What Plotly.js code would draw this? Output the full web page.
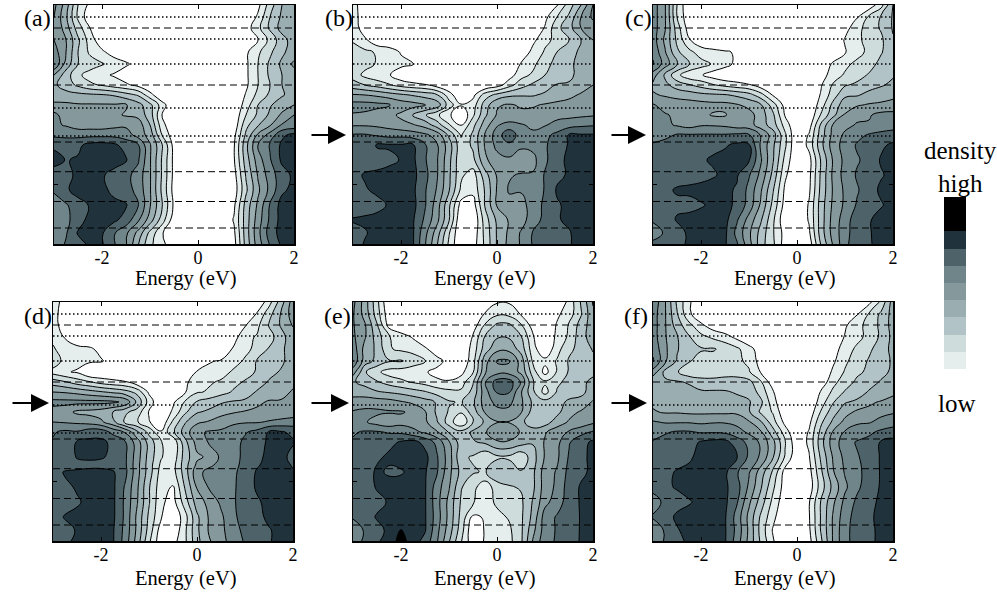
<!DOCTYPE html>
<html><head><meta charset="utf-8">
<script src="https://cdn.plot.ly/plotly-3.0.1.min.js"></script>
<style>html,body{margin:0;padding:0;background:#fff}</style></head>
<body><div id="chart" style="width:997px;height:595px"></div>
<script>
const energy=[-3,-2.75,-2.5,-2.25,-2,-1.75,-1.5,-1.25,-1,-0.75,-0.5,-0.25,0,0.25,0.5,0.75,1,1.25,1.5,1.75,2];
const rows=[0,12,23,35,47,59,70,80,90,100,110,120,130,140,155,170,185,200,215,228,239];
const rowsD=[0,12,23,35,47,59,70,80,90,100,110,120,130,140,155,163,170,185,200,215,228,239];
const bandColors=['#ffffff','#e5eeed','#cfdcdc','#b2c3c7','#9aadb1','#85999d','#6f858a','#4d6369','#20333c','#000000'];
const levelBar=[[1],[2],[3],[4],[5],[6],[7],[8],[9]];
const levelEdges=[0,1,2,3,4,5,6,7,8,10];
const dottedRows=[12,34,59,103,131];
const dashedRows=[23,80,137,166.7,196.5,223];
const tickVals=[-2,0,2];
const tickText=['-2','0','2'];
const panelLetters=['(a)','(b)','(c)','(d)','(e)','(f)'];

const zA=[
[6.3,4.5,2,.7,0,0,0,0,0,0,0,0,0,0,0,0,0,.7,2.5,4,4.5],
[6,4.2,1.8,.3,0,0,0,0,0,0,0,0,0,0,0,0,0,1.2,3,4.2,4.8],
[6,4.5,2.5,1,0,0,0,0,0,0,0,0,0,0,0,0,.5,1.7,3.2,4.4,5],
[6,5,3.2,1.5,.3,0,0,0,0,0,0,0,0,0,0,0,0,1,2.3,3.6,4.5],
[6.5,5,3,1.8,1.2,.5,0,0,0,0,0,0,0,0,0,0,.8,1.8,2.8,3.8,4.5],
[7,4.6,3,2.5,2.1,1.6,1.2,.5,0,0,0,0,0,0,0,0,.8,2,3.2,4.2,5.2],
[5,3.5,2.2,1.6,1.2,.9,.3,0,0,0,0,0,0,0,0,0,.8,2,3.2,4,4.6],
[4.2,3.5,2.8,2.2,1.9,1.5,1.2,.7,0,0,0,0,0,0,0,0,.8,2,3,4,4.6],
[4.5,4.4,4.3,4.2,4.1,3.9,3.4,2.9,1.4,0,0,0,0,0,0,0,1.1,2.3,3.2,3.9,4.4],
[5.2,5.2,5.1,5.1,5.1,5.1,5.1,4.4,3.3,1.5,0,0,0,0,0,0,1.5,3,3.9,4.5,5],
[6.3,5.5,5.3,5.2,5.2,5.2,4.9,4.7,3.5,1,0,0,0,0,0,.2,2,3.2,4.2,5.2,6],
[6.2,5.9,5.5,5.5,5.5,5.7,5.8,5.6,4,1.4,0,0,0,0,0,.3,2.7,3.9,4.9,6.1,6.3],
[6.8,6.8,6.7,6.7,6.7,6.7,6.5,5.6,4.6,2,.3,0,0,0,0,.7,3.2,5.2,6.4,7.8,8.3],
[7.8,7.5,7.8,8.3,8.4,8.2,7.6,7.1,5.1,3.1,.6,0,0,0,0,.9,3.7,6,7.1,8.2,8.4],
[8.4,7.95,8.1,8.5,8.5,8.4,8.1,7.15,5.1,2.9,.7,0,0,0,0,.9,3.5,5.5,6.9,8.2,8.2],
[7.5,7.6,8.3,8.5,8.1,7.7,7.3,6.6,5.1,2.9,.7,0,0,0,0,.6,3.1,5.1,6.5,7.6,8.2],
[7.2,7.8,8.5,8.5,8.3,7.7,7.4,6.7,5.1,2.8,.6,0,0,0,0,.4,2.8,4.8,6.3,7.8,8.3],
[6.3,6.9,7.5,8.1,8.4,8.3,8.1,7.1,5.1,3.1,.8,0,0,0,0,.8,3.4,5.2,7.1,8.4,8.4],
[6.1,6.7,7.6,8.3,8.4,8.2,7.6,6.2,4.5,2.5,.4,0,0,0,0,1.1,3.5,5.5,7.2,8.4,8.5],
[6.2,6.9,8.1,8.5,8.1,7.1,6.2,4.7,2.7,1.1,0,0,0,0,0,.8,3.5,5.7,7.5,8.4,8.5],
[6.4,7.1,7.6,8.2,8.1,7.1,6.1,4.1,2.2,1.4,0,0,0,0,0,.6,3.4,5.5,7.1,8.2,8.5]];

const zB=[
[1.6,0,0,0,0,0,0,0,0,0,0,0,0,0,0,0,0,.9,2.5,4,6],
[1.6,.2,0,0,0,0,0,0,0,0,0,0,0,0,0,0,.7,2,3.2,5,6.2],
[1.7,.3,0,0,0,0,0,0,0,0,0,0,0,0,0,0,1.1,2.7,3.6,5,5.5],
[1.8,1.2,.2,0,0,0,0,0,0,0,0,0,0,0,0,.7,1.8,2.2,3,4,5],
[2.7,2.2,1.9,1.6,.9,0,0,0,0,0,0,0,0,0,0,1.4,2.1,3,3.6,4.2,5],
[3,2.4,1.9,1.6,1.3,1.1,0,0,0,0,0,0,0,0,1.1,1.7,2.8,3.2,3.8,4.3,4.8],
[2.6,1.7,1.3,1.1,.3,0,0,0,0,0,0,0,0,.5,1.6,2.2,3,3.3,3.8,4.3,4.7],
[3.4,3,2.6,2.1,1.6,1.3,1.1,.5,0,0,0,0,.5,1.6,2.6,3.2,3.5,4.1,4.1,4.6,5],
[5.1,5,4.8,4.5,4.2,3.9,3.6,3.1,1.5,0,.7,2.5,3.3,3.8,3.9,3.9,4.2,4.6,4.8,5.1,5.2],
[6.4,6.4,6.3,6.1,5.6,5.4,5.1,4.6,2.5,1.1,1.5,3.5,4.9,5.1,4.9,4.9,5.1,5.2,5.3,5.5,5.6],
[5.9,5.8,5.5,5.3,4.8,3.9,3.1,2.2,1.2,0,1.8,3.8,5.1,5.1,5.2,5.3,5.1,5.5,5.7,5.8,5.9],
[5.9,5.9,5.8,5.6,5.3,5.1,4.6,3.5,2.1,.9,2.7,4.5,5.9,6.4,6.1,5.8,5.9,6.5,6.6,6.8,6.9],
[7.1,7.1,6.9,6.7,6.7,6.5,6.2,5.6,3.8,1.9,3.2,5.1,6.5,7.7,6.5,6.2,6.8,7.2,8.1,8.1,8.1],
[7.1,7.5,8.1,8.1,8.1,8.1,7.1,6.1,4.5,2.3,3.2,5.1,6.3,6.8,6.3,6.3,6.9,7.4,8.1,8.3,8.3],
[7.5,7.5,7.6,7.8,8.05,8.2,7.1,6.1,4.3,2.2,2.7,4.8,5.6,5.8,5.2,5.7,6.8,7.7,8.2,8.4,8.4],
[7.7,8.1,8.2,8.3,8.4,8.3,7.3,6.1,4.2,2.2,1.5,3.6,5.1,5.9,6.1,6.1,7.1,7.8,8.1,8.3,8.3],
[7.6,7.9,8.2,8.3,8.4,8.2,7.1,5.9,4.1,1.8,1.3,3.1,5.1,6.1,6.1,6.1,7.1,8.1,8.3,8.3,8.1],
[7.4,7.5,7.7,8.1,8.3,8.3,7.1,5.5,3.2,.6,.5,3.1,5.1,5.7,5.6,6.5,7.2,7.9,8.2,8.3,8.2],
[8.1,8.2,8.3,8.4,8.4,8.1,6.8,5.3,3.1,0,0,2.5,4.2,5.1,5.6,6.5,7.3,7.9,8.2,8.4,8.5],
[7.6,7.9,8.4,8.4,8.4,8.1,6.3,4.5,2.1,0,.3,2.3,4.1,5.2,6.1,7.1,7.5,7.6,7.9,8.5,8.5],
[7.5,8.1,8.4,8.4,8.4,8.1,6.1,4.1,1.8,0,.5,2.2,4.1,5.3,6.1,7.1,7.5,7.7,7.9,8.4,8.5]];

const zC=[
[6.5,5.1,2,0,0,0,0,0,0,0,0,0,0,0,0,0,0,0,.3,1.6,4],
[6.5,5.1,2,.2,0,0,0,0,0,0,0,0,0,0,0,0,0,.9,2.2,3.1,4.1],
[6.5,5.1,2.5,.5,0,0,0,0,0,0,0,0,0,0,0,0,.6,1.6,2.5,3.1,4.1],
[6.5,4.8,2.8,1.1,.3,0,0,0,0,0,0,0,0,0,0,0,1.1,1.8,2.3,2.8,3.9],
[6.8,5.1,3.2,2.3,1.5,1.3,1.1,.9,.3,0,0,0,0,0,0,0,.9,1.7,2.2,2.9,3.7],
[7.1,5.5,4.1,3.1,2.4,1.9,1.4,.7,0,0,0,0,0,0,0,1.2,1.8,2.2,2.6,3.3,3.7],
[5.5,3.8,2.3,1.3,1.1,.5,.1,0,0,0,0,0,0,0,.4,1.6,2.1,2.6,3.1,3.6,3.9],
[4.8,4.3,3.5,3.1,2.6,2.1,1.7,1.4,1.1,.4,0,0,0,0,.9,2.1,2.9,3.2,3.6,3.9,4.2],
[5.1,4.9,4.7,4.5,4.3,4.2,4.1,3.8,3.4,2.4,.9,0,0,0,1.1,2.5,3.8,3.9,4.3,4.5,4.7],
[6.1,5.6,5.5,5.5,5.4,5.3,5.3,5.1,4.7,4.1,2.5,.6,0,0,1.5,3.3,4.6,4.9,5.1,5.2,5.4],
[6.3,6.1,5.8,5.5,5.3,4.9,4.9,5.7,5.4,4.5,3.2,.9,0,.1,2.1,3.7,5.1,5.7,5.9,6.3,6.3],
[6.3,6.2,5.9,5.6,5.9,5.9,5.8,5.5,5.4,4.5,3.5,1.6,0,.5,3.2,5.1,5.7,6.1,6.1,6.4,6.6],
[6.3,6.7,7.1,7.1,7.1,7.1,7.1,7.2,7.1,5.9,4.5,2.2,0,1.1,3.5,5.3,6.2,6.7,7.1,7.3,7.4],
[7.2,7.4,7.5,7.5,7.7,7.8,7.9,8.2,8.1,5.8,4.2,2.2,0,1.3,3.7,5.5,6.4,7.1,7.2,7.8,8.2],
[7.3,7.4,7.5,7.7,7.9,8.1,8.3,8.4,8.1,6.1,4.1,1.7,0,.6,3.1,5.1,6.3,6.9,7.3,8.1,8.4],
[7.5,7.6,7.6,7.6,7.6,7.9,8.2,8.1,7.1,5.7,3.7,1.2,0,.7,3.2,5.2,6.4,7.1,7.4,7.9,8.3],
[7.4,7.8,8.1,8.2,8.4,8.4,8.2,7.9,6.7,5.1,3.1,.8,0,.8,3.3,5.1,6.2,6.9,7.5,8.2,8.3],
[7.1,7.6,7.8,7.7,7.9,8.2,8.3,7.8,6.6,4.8,2.7,.6,0,1.1,3.5,5.2,6.2,7.1,7.2,7.9,8.4],
[7.1,7.4,8.1,8.3,8.4,8.4,8.3,7.1,5.6,4.1,2.2,.2,0,1.1,3.5,5.4,6.5,7.6,7.9,8.4,8.5],
[6.6,7.1,7.5,8.2,8.5,8.4,8.2,6.7,5.2,3.6,2.1,.6,0,.8,3.5,5.4,6.6,7.6,7.9,8.4,8.5],
[7.2,7.5,7.8,8.1,8.5,8.4,8.1,7.1,5.4,3.4,2.2,.5,0,.4,3.1,5.1,6.7,7.7,7.9,8.3,8.5]];

const zD=[
[1.6,.5,0,0,0,0,0,0,0,0,0,0,0,0,0,0,0,0,1.6,3.5,5.5],
[1.5,.3,0,0,0,0,0,0,0,0,0,0,0,0,0,0,.2,1.1,2.6,4.1,5.5],
[1.5,.4,0,0,0,0,0,0,0,0,0,0,0,0,0,0,.9,1.7,3.1,4.1,5.1],
[1.8,.9,0,0,0,0,0,0,0,0,0,0,0,0,0,.5,1.7,2.1,2.5,3.7,4.5],
[2.1,1.6,1.4,1.2,.7,0,0,0,0,0,0,0,0,0,0,1.1,1.8,2.2,3.1,3.8,4.5],
[2.7,1.6,1.3,1.2,1.1,.6,0,0,0,0,0,0,0,.9,1.1,1.7,2.1,3.1,3.3,3.8,4.5],
[1.6,1.1,.9,0,0,0,0,0,0,0,0,0,1.1,1.3,1.7,2.1,2.6,3.1,3.7,4.1,4.8],
[3.5,3.1,2.5,2.1,1.6,1.3,1.1,.3,0,0,0,.8,1.5,1.9,2.1,2.7,3.1,3.5,4.1,4.5,4.8],
[5,4.9,4.7,4.4,4.1,3.8,3.4,2.7,.8,0,.3,.9,1.9,2.1,2.6,3.1,3.5,4.1,4.5,4.7,5.1],
[6.3,6.3,6.3,6.3,6.3,6.2,5.8,3.8,1.6,0,.8,2.1,3.1,3.5,3.9,4.1,4.2,4.8,5.1,5.1,5.2],
[5.6,5.4,4.8,4.7,4.5,4,3.2,2.6,.9,0,1.2,2.8,3.9,4.2,4.5,4.9,5.1,5.2,5.3,5.3,5.5],
[6,5.9,5.8,5.6,5.2,4.3,2.8,2.1,1.1,.1,2.2,3.9,4.8,5.1,5.7,5.8,5.9,5.9,6.1,6.3,6.4],
[6.9,7.2,7.1,7.6,7.6,6.7,5.9,4.2,2.7,1.1,2.8,4.5,5.8,6.1,6.1,6.5,6.9,7.3,8.1,8.1,7.8],
[7.1,7.1,8.1,8.2,8.2,7.8,7.1,5.5,3.6,2.1,1.2,3.7,5.4,6.1,6.3,6.6,7.2,7.5,8.2,8.3,8.1],
[7.1,7.1,8.1,8.2,8.1,7.8,7.2,5.5,3.6,2.1,1.3,3.5,4.8,5.2,6.2,6.7,7.2,7.8,8.2,8.3,7.7],
[7.3,7.4,7.6,7.7,7.7,7.6,7.2,5.4,3.5,1.8,1.6,3.6,5.2,5.8,6.3,6.7,7.3,7.9,8.3,8.4,7.9],
[7.5,8.1,8.2,8.3,8.3,8.1,7.3,5.4,3.5,1.6,1.6,3.5,5.7,6.3,6.4,6.8,7.4,8.1,8.4,8.5,8.1],
[7.2,7.8,8.1,8.3,8.3,8.2,6.9,5.2,3.1,1.4,.9,3.1,5.1,6.1,6.4,6.8,7.6,8.1,8.3,8.4,8.4],
[7.4,7.5,7.9,8.2,8.3,8.2,6.8,5.1,3.1,1.2,.6,2.5,4.5,5.3,6.2,6.8,7.7,7.9,8.2,8.3,8.4],
[7.4,8.1,8.2,8.3,8.3,8.2,6.8,4.8,2.8,1.1,0,1.6,3.8,5.1,5.8,6.8,7.4,7.6,8.3,8.4,8.5],
[7.4,7.6,8.1,8.3,8.3,8.1,6.7,4.8,2.6,.5,.1,1.8,3.8,5.1,5.7,6.7,7.2,7.6,7.9,8.4,8.5],
[7.4,7.8,8.2,8.4,8.3,8.1,6.6,4.6,2.2,.3,.6,1.8,3.7,4.9,5.6,6.5,7.1,7.5,7.9,8.4,8.5]];

const zE=[
[6.3,4.5,2.3,0,0,0,0,0,0,0,0,0,.9,.9,0,0,0,0,1.3,3.1,5.1],
[6.1,4.6,2.5,.3,0,0,0,0,0,0,0,1.1,1.8,1.7,.9,0,0,.8,1.5,2.9,4.8],
[6.1,5.1,3.1,.6,0,0,0,0,0,0,.4,2.1,3.2,3.2,2.1,.5,0,1.1,2.1,3.4,4.6],
[6.2,5.1,3.5,2.1,1.5,.9,0,0,0,0,1.1,3.1,3.9,3.9,3.1,1.1,.2,1.2,2.2,3.6,4.5],
[6.6,4.6,3.8,2.1,1.8,1.6,1.2,.3,0,0,1.4,3.5,4.7,4.7,3.6,1.4,.1,1.6,2.8,3.3,4.1],
[6.8,4.5,3.7,3.1,3.1,2.6,2.1,1.4,.6,.1,1.6,4.6,6.1,6.1,4.6,1.8,1.3,2.1,3.1,3.3,3.7],
[5.5,3.1,2.2,1.6,1.5,1.3,1.1,.7,.5,.7,1.9,4.9,5.6,5.6,4.8,2.5,.6,2.1,3.1,3.5,3.8],
[4.1,3.7,3.1,2.6,2.2,1.9,1.6,1.2,1.1,1.5,2.9,5.9,7.5,7.5,5.9,3.1,2.2,2.8,3.3,3.8,4.2],
[4.6,4.4,4.1,3.9,3.7,3.4,3.1,2.6,2.3,2.2,3.3,5.6,7.1,7.1,5.1,3.2,1.6,3.1,3.5,3.7,4.5],
[5.4,5.6,5.5,5.4,5.1,4.8,4.4,3.9,3.1,2.9,3.8,5.5,6.3,6.3,5.2,3.8,3.4,3.6,4.2,4.4,5.1],
[6.1,6.2,6.2,6.1,6.1,5.8,5.1,3.8,2.9,2.1,3.5,5.1,5.7,5.7,5.1,3.6,3.4,3.7,4.7,5.1,5.3],
[6.3,6.1,5.6,5.3,5.6,5.5,5.2,4.1,2.5,1.1,2.9,4.2,4.95,4.95,4.3,3.3,3.5,4.5,5.1,5.3,5.8],
[6.9,7.1,7.1,6.9,6.8,6.3,5.8,5.1,3.9,3.3,4.2,4.9,5.6,5.6,4.9,4.5,4.9,5.5,6.1,6.7,7.1],
[7.1,7.2,7.5,7.7,8.1,8.3,7.7,6.7,5.1,3.5,3.9,4.2,4.9,4.9,4.5,4.1,5.1,5.7,6.9,7.6,8.2],
[7.1,7.3,7.8,8.2,8.4,8.4,8.3,7.1,5.5,3.2,2.9,2.2,2.8,2.8,2.2,3.6,5.1,5.8,7.1,7.8,8.2],
[7.2,7.4,8.2,7.85,7.9,8.3,8.1,7.1,5.3,3.7,3.1,2.9,3.9,3.8,3.1,3.8,5.5,6.1,7.3,7.8,8.2],
[7.1,7.5,8.1,8.4,8.4,8.3,8.1,6.5,5.1,3.1,2.3,1.4,2.5,2.9,3.1,3.8,5.5,6.2,7.5,8.1,8.3],
[7.1,7.4,7.7,8.1,8.3,8.3,8.1,6.4,4.7,2.9,2.1,1.5,2.2,2.4,2.8,4.1,5.7,6.5,7.5,8.1,8.2],
[7.1,7.5,8.1,8.3,8.4,8.3,8.1,6.5,4.7,2.7,.8,1.1,1.7,2.1,2.8,4.3,6.5,7.1,7.3,8.1,8.4],
[6.5,7.1,7.7,8.2,9.02,8.5,8.1,6.3,4.5,2.5,.1,1.1,1.3,1.8,2.8,4.7,6.5,7.1,7.4,8.1,8.4],
[6.5,7.2,7.9,8.3,9.5,8.4,7.7,6.1,4.1,2.1,.3,1.1,1.3,1.7,2.8,5.1,6.7,7.1,7.5,8.1,8.4]];

const zF=[
[6.8,5.1,2.8,1.2,0,0,0,0,0,0,0,0,0,0,0,0,0,0,.7,2.2,4.5],
[6.5,5.1,3.1,1.2,.2,0,0,0,0,0,0,0,0,0,0,0,0,.9,2.1,3.2,4.4],
[6.5,5.1,3.5,2.3,1.2,.4,0,0,0,0,0,0,0,0,0,0,.8,1.8,2.2,3.3,4.4],
[6.5,5.1,4.1,3.1,2.3,1.8,1.4,.7,0,0,0,0,0,0,0,0,1.1,1.7,2.3,3.2,4.3],
[6.8,5.2,4.1,3.3,3.1,3.1,2.7,2.2,1.4,.4,0,0,0,0,0,.5,1.5,2.2,2.8,3.5,4.3],
[7.1,5.2,3.9,3.1,2.6,2.6,2.5,2.2,1.8,.5,0,0,0,0,0,.8,1.8,2.5,3.1,3.4,4.2],
[5.6,3.7,3.1,2.3,2.1,2.2,2.6,2.7,2.1,.9,0,0,0,0,0,1.2,2.1,2.8,3.2,3.7,4.2],
[4.1,4.2,4.1,3.9,3.6,3.5,3.4,3.3,3.3,2.1,.3,0,0,0,.3,1.7,2.5,3.2,3.6,4.1,4.5],
[4.1,4.2,4.2,4.3,4.1,4.1,4.1,3.9,3.7,2.6,1.1,0,0,0,1.1,2.2,3.1,3.5,4.1,4.2,4.8],
[4.8,4.9,4.7,4.6,4.6,4.5,4.5,4.3,4.1,3.2,1.4,0,0,0,1.5,2.9,3.9,4.2,4.8,5.1,5.3],
[5.1,4.9,4.9,4.8,4.8,4.8,4.8,4.8,4.1,2.8,1.9,.2,0,.3,2.1,3.6,4.6,5.2,5.3,5.7,5.9],
[6.1,5.9,5.9,5.9,5.8,5.9,5.9,5.7,5.1,4.1,2.4,.7,0,.7,2.8,4.2,5.3,5.9,5.9,6.3,6.5],
[6.5,6.9,7.1,7.1,6.9,6.9,6.8,6.4,5.8,5.1,3.4,1.5,0,1.1,3.3,5.1,6.1,6.3,6.8,7.2,7.5],
[7.1,7.3,7.5,7.6,8.1,8.3,8.3,7.5,6.7,5.8,4.3,2.1,.2,1.2,3.6,5.5,6.5,7.1,7.3,8.1,8.3],
[7.2,7.4,7.5,7.8,8.4,8.5,8.4,8.1,6.8,5.8,4.1,1.9,.2,.9,3.2,5.1,6.3,6.9,7.4,8.1,8.3],
[7.4,7.7,8.1,8.3,8.1,8.3,8.2,7.1,6.1,4.5,2.8,.6,0,.6,2.8,4.9,6.1,6.8,7.3,8.1,8.3],
[7.3,7.8,8.1,8.4,8.5,8.4,8.2,7.4,5.8,4.1,2.2,.5,0,.4,2.5,4.3,5.8,6.8,7.5,8.1,8.4],
[6.6,7.2,7.6,7.9,8.3,8.4,8.2,7.1,5.2,3.5,1.7,.3,0,.9,3.1,4.8,6.3,7.2,7.7,8.2,8.4],
[7.1,7.5,8.2,8.4,8.5,8.4,8.1,6.6,4.7,2.8,1.3,0,0,.9,3.1,5.1,6.6,7.4,7.8,8.3,8.4],
[6.4,7.1,7.9,8.4,8.5,8.3,8.1,6.7,4.8,2.6,.9,0,0,.8,3.1,5.1,6.8,7.3,7.7,8.3,8.5],
[6.3,7.1,7.7,8.2,8.4,8.3,8.1,6.5,4.7,2.8,1.1,0,0,.6,2.8,5.1,6.8,7.3,7.7,8.3,8.5]];

const W=997,H=595;
const panelData=[zA,zB,zC,zD,zE,zF];
const panelRows=[rows,rows,rows,rowsD,rows,rows];
const pLeft=[54,353,653,53,353,653], pTop=[5,5,5,302,302,302];
const letterX=[22,323,623,22,322,622], letterY=[18,18,18,316,316,316];
const titleX=[186,485,785,186,485,785], titleY=[278,278,278,578,578,578];
const arrowTip=[[346,135],[646,135],[49,403],[349,403],[647,403]];
const arrowLen=[36,36,38,39,37];
const font='"Liberation Serif","Times New Roman",serif';
const cs=bandColors.map((c,i)=>[i/9,c]);
const traces=[],shapes=[],annotations=[];
const layout={width:W,height:H,margin:{l:0,r:0,t:0,b:0},paper_bgcolor:'#fff',plot_bgcolor:'#fff',showlegend:false,font:{family:font,color:'#000'}};
panelData.forEach((z,i)=>{
  const n=i+1,xa='x'+n,ya='y'+n;
  traces.push({type:'contour',x:energy,y:panelRows[i],z:z,xaxis:xa,yaxis:ya,autocontour:false,showscale:false,hoverinfo:'skip',
    contours:{type:'levels',start:1,end:9,size:1,coloring:'fill',showlines:true},
    line:{color:'#000',width:1,smoothing:1.3},colorscale:cs});
  layout['xaxis'+n]={domain:[pLeft[i]/W,(pLeft[i]+240)/W],anchor:ya,range:[-3,2],tickmode:'array',tickvals:tickVals,ticktext:tickText,ticks:'inside',ticklen:4,tickwidth:1,tickcolor:'#000',mirror:'allticks',showline:true,linecolor:'#000',linewidth:1.5,showgrid:false,zeroline:false,ticklabelstandoff:-3,tickfont:{family:font,size:18,color:'#000'}};
  layout['yaxis'+n]={domain:[1-(pTop[i]+239)/H,1-pTop[i]/H],anchor:xa,range:[239,0],tickmode:'array',tickvals:[179],ticktext:[''],ticks:'inside',ticklen:4,tickcolor:'#000',mirror:'allticks',showline:true,linecolor:'#000',linewidth:1.5,showgrid:false,zeroline:false};
  dottedRows.forEach(r=>shapes.push({type:'line',xref:xa,yref:ya,x0:-3,x1:2,y0:r,y1:r,line:{color:'#000',width:1.5,dash:'1.5px,2.5px'}}));
  dashedRows.forEach(r=>shapes.push({type:'line',xref:xa,yref:ya,x0:-3,x1:2,y0:r,y1:r,line:{color:'#000',width:1,dash:'7px,4px'}}));
  annotations.push({xref:'paper',yref:'paper',x:letterX[i]/W,y:1-letterY[i]/H,xanchor:'left',yanchor:'middle',text:panelLetters[i],showarrow:false,font:{family:font,size:24,color:'#000'}});
  annotations.push({xref:'paper',yref:'paper',x:titleX[i]/W,y:1-titleY[i]/H,xanchor:'center',yanchor:'middle',text:'Energy (eV)',showarrow:false,font:{family:font,size:20.5,color:'#000'}});
});
arrowTip.forEach((t,i)=>annotations.push({xref:'paper',yref:'paper',x:t[0]/W,y:1-t[1]/H,text:'',showarrow:true,ax:-arrowLen[i],ay:0,arrowhead:2,arrowsize:1.8,arrowwidth:2,arrowcolor:'#000',standoff:0}));
traces.push({type:'heatmap',x:[0,1],y:levelEdges,z:levelBar,xaxis:'x7',yaxis:'y7',zmin:0,zmax:9,colorscale:cs,showscale:false,hoverinfo:'skip'});
layout.xaxis7={domain:[944/W,966/W],anchor:'y7',range:[0,1],visible:false};
layout.yaxis7={domain:[1-369/H,1-197/H],anchor:'x7',range:[0,10],visible:false};
[['density',960,150],['high',960,183],['low',957,403]].forEach(a=>annotations.push({xref:'paper',yref:'paper',x:a[1]/W,y:1-a[2]/H,xanchor:'center',yanchor:'middle',text:a[0],showarrow:false,font:{family:font,size:25,color:'#000'}}));
layout.shapes=shapes;layout.annotations=annotations;
Plotly.newPlot('chart',traces,layout,{displayModeBar:false,staticPlot:true});
</script></body></html>
